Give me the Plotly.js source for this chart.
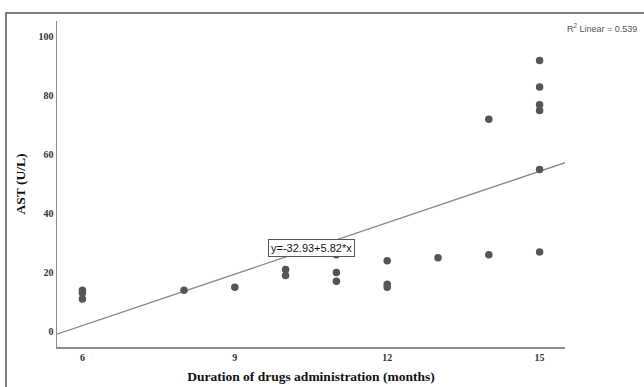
<!DOCTYPE html>
<html>
<head>
<meta charset="utf-8">
<script src="https://cdn.plot.ly/plotly-3.0.1.min.js"></script>
<style>html,body{margin:0;padding:0;background:#fff;}#chart{width:644px;height:387px;}</style>
</head>
<body>
<div id="chart"></div>
<script>
// Data
const durationMonths = [6, 6, 6, 8, 9, 10, 10, 11, 11, 11, 12, 12, 12, 13, 14, 14, 15, 15, 15, 15, 15, 15];
const astValues      = [14, 13, 11, 14, 15, 21, 19, 26, 20, 17, 24, 16, 15, 25, 72, 26, 92, 83, 77, 75, 55, 27];
const fitIntercept = -32.93;
const fitSlope = 5.82;
const rSquared = 0.539;
const xTicks = [6, 9, 12, 15];
const yTicks = [0, 20, 40, 60, 80, 100];
const xRange = [5.5, 15.5];
const yRange = [-5.3, 105.4];

const fitX = xRange.slice();
const fitY = fitX.map(x => fitIntercept + fitSlope * x);

const traces = [
  {
    x: fitX, y: fitY, type: 'scatter', mode: 'lines',
    line: {color: '#8a8a8a', width: 1.3},
    hoverinfo: 'skip', showlegend: false
  },
  {
    x: durationMonths, y: astValues, type: 'scatter', mode: 'markers',
    marker: {color: '#555555', size: 7.5},
    showlegend: false
  }
];

const tickFont = {family: 'Liberation Serif, serif', size: 10, color: '#333', weight: 'bold'};
const titleFont = {family: 'Liberation Serif, serif', size: 13.5, color: '#111', weight: 'bold'};

const layout = {
  width: 644, height: 387,
  margin: {l: 57, r: 79, t: 21, b: 40},
  paper_bgcolor: '#fff', plot_bgcolor: '#fff',
  showlegend: false,
  xaxis: {
    range: xRange, tickvals: xTicks, ticktext: xTicks.map(String),
    showgrid: false, zeroline: false, ticks: '',
    showline: true, linecolor: '#8c8c8c', linewidth: 1.5,
    tickfont: tickFont,
    title: {text: 'Duration of drugs administration (months)', font: titleFont, standoff: 10}
  },
  yaxis: {
    range: yRange, tickvals: yTicks, ticktext: yTicks.map(String),
    showgrid: false, zeroline: false, ticks: '',
    showline: true, linecolor: '#8c8c8c', linewidth: 1.5,
    tickfont: tickFont,
    title: {text: 'AST (U/L)', font: titleFont, standoff: 10}
  },
  shapes: [
    {type: 'rect', xref: 'paper', yref: 'paper', x0: -0.1004, x1: 1.3, y0: -0.3, y1: 1.0246,
     line: {color: '#555', width: 1.5}, fillcolor: 'rgba(0,0,0,0)', layer: 'below'}
  ],
  annotations: [
    {
      x: 10.5, y: 28.2, xref: 'x', yref: 'y',
      text: 'y=' + fitIntercept.toFixed(2) + '+' + fitSlope.toFixed(2) + '*x',
      showarrow: false, bgcolor: '#fff', bordercolor: '#555', borderwidth: 1, borderpad: 2,
      font: {family: 'Liberation Sans, sans-serif', size: 11, color: '#111'}
    },
    {
      x: 1.146, y: 0.98, xref: 'paper', yref: 'paper', xanchor: 'right', yanchor: 'middle',
      text: 'R<sup>2</sup> Linear = ' + rSquared.toFixed(3),
      showarrow: false,
      font: {family: 'Liberation Sans, sans-serif', size: 9, color: '#555'}
    }
  ]
};

Plotly.newPlot('chart', traces, layout, {displayModeBar: false, staticPlot: true});
</script>
</body>
</html>
